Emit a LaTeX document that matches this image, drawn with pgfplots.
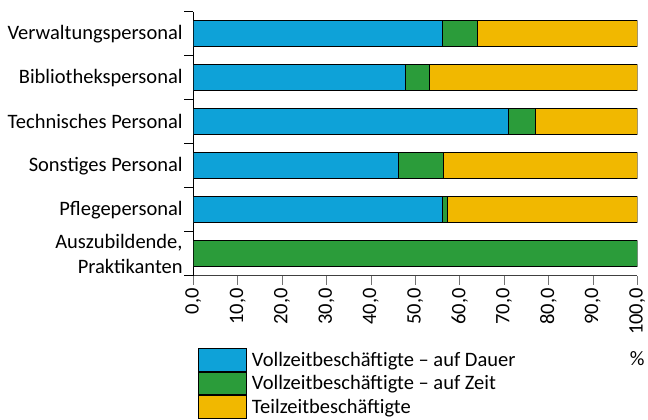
\documentclass[border=0pt]{standalone}
\usepackage{fontspec}
\setmainfont{Carlito}
\usepackage{pgfplots}
\pgfplotsset{compat=1.18}
\definecolor{cblue}{RGB}{14,162,216}
\definecolor{cgreen}{RGB}{43,156,58}
\definecolor{cyellow}{RGB}{241,184,0}
\newcommand{\lbl}{\fontsize{20.5bp}{25bp}\selectfont}
\begin{document}
\begin{tikzpicture}
\begin{axis}[
  xbar stacked,
  scale only axis, width=444bp, height=264bp,
  xmin=0, xmax=100, ymin=-0.5, ymax=5.5,
  bar width=25.7bp,
  axis lines*=left,
  x axis line style={draw=black!75, line width=0.8bp},
  y axis line style={draw=black, line width=0.8bp},
  xtick={0,10,...,100},
  ytick={0,...,5},
  yticklabels={{Auszubildende,\\Praktikanten},Pflegepersonal,Sonstiges Personal,Technisches Personal,Bibliothekspersonal,Verwaltungspersonal},
  minor ytick={-0.5,0.5,...,5.5},
  tick align=outside,
  major tick length=9bp, minor tick length=9bp,
  every major y tick/.append style={draw=none},
  every minor y tick/.append style={draw=black, line width=0.8bp},
  every major x tick/.append style={draw=black!55, line width=0.8bp},
  x tick label style={rotate=90, anchor=east, font=\lbl},
  y tick label style={align=right, font=\lbl, inner sep=1.5bp},
  /pgf/number format/.cd, fixed, fixed zerofill, precision=1, use comma, assume math mode=true,
  /pgfplots/.cd,
  xlabel={\%},
  xlabel style={at={(axis description cs:1,0)}, anchor=center, yshift=-83bp, font=\lbl},
  legend style={at={(axis description cs:0,0)}, anchor=north west, xshift=4.7bp, yshift=-72.3bp,
    draw=none, fill=none, inner sep=0pt, font=\lbl, row sep=0pt,
    nodes={inner sep=1bp}, cells={anchor=west},
    /tikz/every odd column/.append style={column sep=4bp}},
  legend image code/.code={\draw[#1,draw=black,line width=0.8bp] (0bp,-11.3bp) rectangle (48bp,11.3bp);},
  legend cell align=left,
]
\addplot[fill=cblue, draw=black, line width=0.8bp] coordinates {(56.1,5) (47.8,4) (70.9,3) (46.2,2) (56.0,1) (0,0)};
\addplot[fill=cgreen, draw=black, line width=0.8bp] coordinates {(7.9,5) (5.4,4) (6.1,3) (10.2,2) (1.3,1) (100,0)};
\addplot[fill=cyellow, draw=black, line width=0.8bp] coordinates {(36.0,5) (46.8,4) (23.0,3) (43.6,2) (42.7,1) (0,0)};
\addlegendentry{Vollzeitbeschäftigte – auf Dauer}
\addlegendentry{Vollzeitbeschäftigte – auf Zeit}
\addlegendentry{Teilzeitbeschäftigte}
\end{axis}
\pgfresetboundingbox
\useasboundingbox (current axis.south west) ++(-193.3bp,-144.3bp) rectangle ++(648bp,420bp);
\end{tikzpicture}
\end{document}
